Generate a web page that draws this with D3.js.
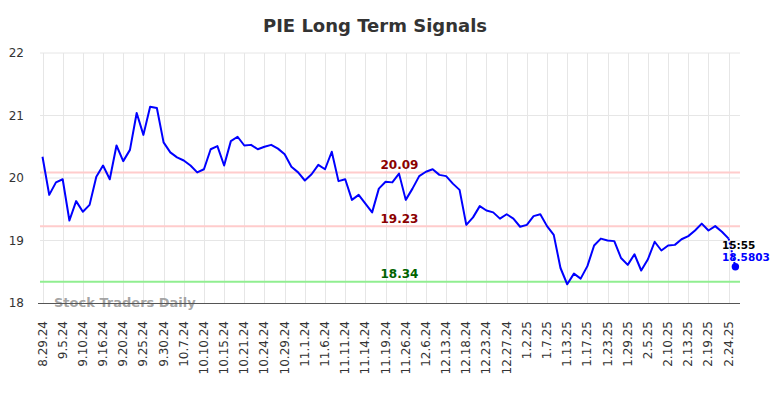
<!DOCTYPE html>
<html>
<head>
<meta charset="utf-8">
<script src="https://cdn.jsdelivr.net/npm/d3@7/dist/d3.min.js"></script>
<style>
  html, body { margin: 0; padding: 0; background: #fff; }
  svg { display: block; font-family: "DejaVu Sans", sans-serif; }
</style>
</head>
<body>
<svg id="chart" width="784" height="398"></svg>
<script>
// ---- data ----
const title = "PIE Long Term Signals";
const tickLabels = ["8.29.24","9.5.24","9.10.24","9.16.24","9.20.24","9.25.24","9.30.24","10.7.24","10.10.24","10.15.24","10.21.24","10.24.24","10.29.24","11.1.24","11.6.24","11.11.24","11.14.24","11.19.24","11.26.24","12.6.24","12.13.24","12.18.24","12.23.24","12.27.24","1.2.25","1.7.25","1.13.25","1.17.25","1.23.25","1.29.25","2.5.25","2.10.25","2.13.25","2.19.25","2.24.25"];
const pointsPerTick = 3;
const prices = [20.34,19.73,19.93,19.98,19.32,19.63,19.46,19.57,20.02,20.20,
  19.98,20.52,20.27,20.45,21.04,20.69,21.14,21.12,20.57,20.41,
  20.33,20.28,20.20,20.09,20.14,20.46,20.51,20.20,20.59,20.66,
  20.52,20.53,20.46,20.50,20.53,20.47,20.38,20.18,20.09,19.96,
  20.06,20.21,20.14,20.42,19.95,19.98,19.65,19.73,19.59,19.45,
  19.83,19.94,19.93,20.07,19.65,19.83,20.03,20.10,20.14,20.05,
  20.03,19.91,19.81,19.25,19.37,19.55,19.48,19.45,19.35,19.42,
  19.35,19.22,19.25,19.39,19.42,19.23,19.09,18.56,18.30,18.47,
  18.39,18.59,18.92,19.03,19.00,18.99,18.72,18.61,18.78,18.52,
  18.70,18.98,18.84,18.92,18.93,19.02,19.07,19.16,19.27,19.16,
  19.23,19.14,19.03];
const lastTime = "15:55";
const lastPrice = 18.5803;
const yTicks = [18, 19, 20, 21, 22];
const levels = [
  {value: 20.09, label: "20.09", kind: "res"},
  {value: 19.23, label: "19.23", kind: "res"},
  {value: 18.34, label: "18.34", kind: "sup"}
];
const watermark = "Stock Traders Daily";

// ---- layout ----
const svg = d3.select("#chart");
const plotLeft = 40, plotRight = 740, plotTop = 53, plotBottom = 303;
const n = prices.length; // last index n-1, live dot at n
const x = d3.scaleLinear().domain([0, n]).range([42.5, 42.5 + n * 6.727]);
const y = d3.scaleLinear().domain([18, 22]).range([plotBottom, plotTop]);

// title
svg.append("text")
  .attr("x", 375).attr("y", 32)
  .attr("text-anchor", "middle")
  .attr("font-size", 18).attr("font-weight", "bold")
  .attr("fill", "#333")
  .text(title);

// horizontal grid
svg.append("g").selectAll("line")
  .data(yTicks.filter(d => d !== 18))
  .join("line")
  .attr("x1", plotLeft).attr("x2", plotRight)
  .attr("y1", d => y(d)).attr("y2", d => y(d))
  .attr("stroke", "#e6e6e6").attr("stroke-width", 1);

// vertical grid
const tickIdx = tickLabels.map((_, i) => i * pointsPerTick);
svg.append("g").selectAll("line")
  .data(tickIdx)
  .join("line")
  .attr("x1", d => Math.round(x(d)) + 0.5).attr("x2", d => Math.round(x(d)) + 0.5)
  .attr("y1", plotTop).attr("y2", plotBottom)
  .attr("stroke", "#e6e6e6").attr("stroke-width", 1);

// y labels
svg.append("g").selectAll("text")
  .data(yTicks)
  .join("text")
  .attr("x", 24).attr("y", d => y(d) + 4)
  .attr("text-anchor", "end")
  .attr("font-size", 12)
  .attr("fill", "#333")
  .text(d => d);

// x labels
svg.append("g").selectAll("text")
  .data(tickLabels)
  .join("text")
  .attr("transform", (d, i) => `translate(${x(i * pointsPerTick) + 4},321) rotate(-90)`)
  .attr("text-anchor", "end")
  .attr("font-size", 12)
  .attr("fill", "#333")
  .text(d => d);

// level lines
svg.append("g").selectAll("line")
  .data(levels)
  .join("line")
  .attr("x1", plotLeft).attr("x2", plotRight)
  .attr("y1", d => y(d.value)).attr("y2", d => y(d.value))
  .attr("stroke", d => d.kind === "res" ? "#ffcccc" : "#90ee90")
  .attr("stroke-width", 2);

// watermark
svg.append("text")
  .attr("x", 54).attr("y", 306.5)
  .attr("font-size", 13).attr("font-weight", "bold")
  .attr("fill", "#999").attr("fill-opacity", 0.9)
  .text(watermark);

// axis line
svg.append("line")
  .attr("x1", 38).attr("x2", plotRight)
  .attr("y1", plotBottom + 0.5).attr("y2", plotBottom + 0.5)
  .attr("stroke", "#555").attr("stroke-width", 1);

// level labels
svg.append("g").selectAll("text")
  .data(levels)
  .join("text")
  .attr("x", 399.5).attr("y", d => y(d.value) - 3.5)
  .attr("text-anchor", "middle")
  .attr("font-size", 12).attr("font-weight", "bold")
  .attr("fill", d => d.kind === "res" ? "#8b0000" : "#006400")
  .text(d => d.label);

// price line
const line = d3.line().x((d, i) => x(i)).y(d => y(d));
svg.append("path")
  .datum(prices)
  .attr("d", line)
  .attr("fill", "none")
  .attr("stroke", "#0000ff")
  .attr("stroke-width", 2)
  .attr("stroke-linejoin", "round");

// dotted connector to live price
svg.append("line")
  .attr("x1", x(n - 1)).attr("y1", y(prices[n - 1]))
  .attr("x2", x(n)).attr("y2", y(lastPrice))
  .attr("stroke", "#0000ff").attr("stroke-width", 2)
  .attr("stroke-dasharray", "2,2");

svg.append("circle")
  .attr("cx", x(n)).attr("cy", y(lastPrice))
  .attr("r", 3.7).attr("fill", "#0000ff");

svg.append("text")
  .attr("x", 722).attr("y", 248.5)
  .attr("font-size", 10.5).attr("font-weight", "bold")
  .attr("fill", "#000")
  .text(lastTime);
svg.append("text")
  .attr("x", 722).attr("y", 261)
  .attr("font-size", 10.5).attr("font-weight", "bold")
  .attr("fill", "#0000ff")
  .text(d3.format(".4f")(lastPrice));
</script>
</body>
</html>
